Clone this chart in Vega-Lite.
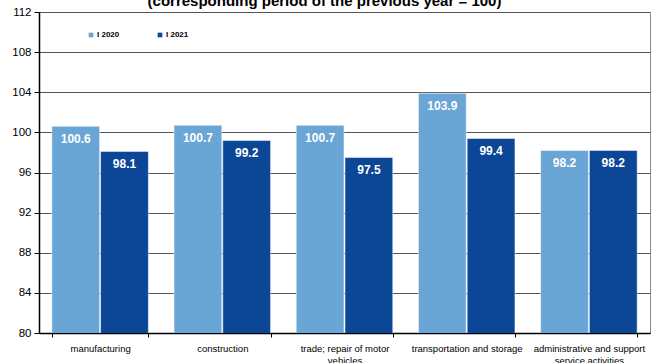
{
  "$schema": "https://vega.github.io/schema/vega-lite/v6.json",
  "width": 611,
  "height": 321,
  "autosize": {"type": "none"},
  "padding": {"left": 39, "top": 12, "right": 1, "bottom": 30},
  "background": "white",
  "title": {
    "text": "(corresponding period of the previous year = 100)",
    "font": "Liberation Sans",
    "fontSize": 15,
    "fontWeight": "bold",
    "color": "black",
    "anchor": "middle",
    "offset": -3,
    "dx": -20
  },
  "config": {
    "font": "Liberation Sans",
    "view": {"stroke": "#888", "strokeWidth": 1}
  },
  "data": {
    "values": [
      {"category": "manufacturing", "series": "I 2020", "value": 100.6},
      {"category": "manufacturing", "series": "I 2021", "value": 98.1},
      {"category": "construction", "series": "I 2020", "value": 100.7},
      {"category": "construction", "series": "I 2021", "value": 99.2},
      {"category": "trade; repair of motor vehicles", "series": "I 2020", "value": 100.7},
      {"category": "trade; repair of motor vehicles", "series": "I 2021", "value": 97.5},
      {"category": "transportation and storage", "series": "I 2020", "value": 103.9},
      {"category": "transportation and storage", "series": "I 2021", "value": 99.4},
      {"category": "administrative and support service activities", "series": "I 2020", "value": 98.2},
      {"category": "administrative and support service activities", "series": "I 2021", "value": 98.2}
    ]
  },
  "encoding": {
    "x": {
      "field": "category",
      "type": "nominal",
      "sort": null,
      "scale": {"paddingInner": 0.21, "paddingOuter": 0.105},
      "axis": {
        "title": null,
        "labelAngle": 0,
        "labelFont": "Liberation Sans",
        "labelFontSize": 9.5,
        "labelColor": "black",
        "labelPadding": 6,
        "labelLineHeight": 12,
        "labelExpr": "datum.value == 'trade; repair of motor vehicles' ? ['trade; repair of motor', 'vehicles'] : datum.value == 'administrative and support service activities' ? ['administrative and support', 'service activities'] : datum.value",
        "tickBand": "extent",
        "tickSize": 4,
        "tickColor": "black",
        "domainColor": "black",
        "domainWidth": 1.5,
        "grid": false
      }
    },
    "xOffset": {"field": "series", "type": "nominal", "scale": {"paddingInner": 0.02}},
    "y": {
      "field": "value",
      "type": "quantitative",
      "scale": {"domain": [80, 112], "nice": false, "zero": false},
      "axis": {
        "title": null,
        "values": [80, 84, 88, 92, 96, 100, 104, 108, 112],
        "labelFont": "Liberation Sans",
        "labelFontSize": 11.5,
        "labelColor": "black",
        "labelPadding": 3,
        "tickSize": 5,
        "tickColor": "black",
        "domainColor": "black",
        "domainWidth": 1.5,
        "grid": true,
        "gridColor": "#555",
        "gridWidth": 1
      }
    }
  },
  "layer": [
    {
      "mark": {"type": "bar", "stroke": "white", "strokeWidth": 0.5, "clip": true},
      "encoding": {
        "color": {
          "field": "series",
          "type": "nominal",
          "scale": {"domain": ["I 2020", "I 2021"], "range": ["#69A5D5", "#0B4697"]},
          "legend": {
            "title": null,
            "orient": "none",
            "legendX": 48,
            "legendY": 19,
            "direction": "horizontal",
            "symbolType": "square",
            "symbolSize": 22,
            "symbolStrokeWidth": 0,
            "labelFontSize": 8,
            "labelFontWeight": "bold",
            "labelFont": "Liberation Sans",
            "labelColor": "black",
            "labelOffset": 2,
            "columnPadding": 36
          }
        }
      }
    },
    {
      "mark": {"type": "text", "color": "white", "fontWeight": "bold", "fontSize": 12, "font": "Liberation Sans", "baseline": "middle", "dy": 13},
      "encoding": {
        "text": {"field": "value", "type": "quantitative", "format": ".1f"}
      }
    }
  ]
}
